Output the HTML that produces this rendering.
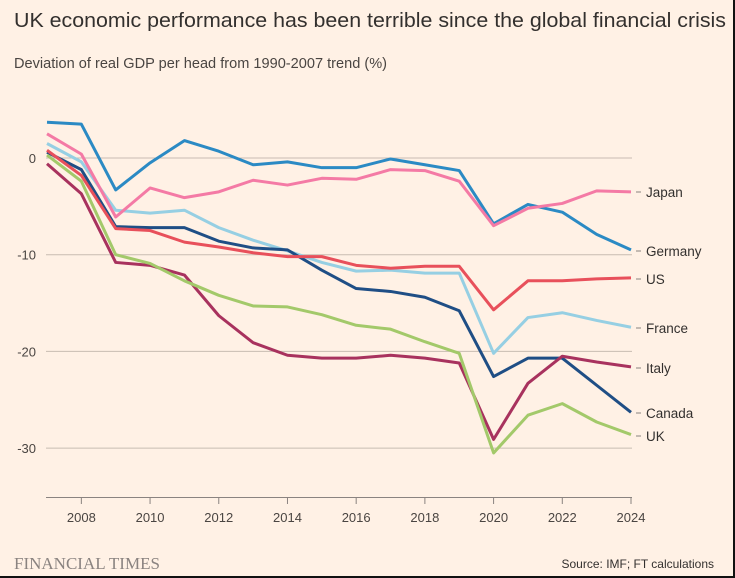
<!DOCTYPE html>
<html><head><meta charset="utf-8">
<style>
body{margin:0;background:#fff1e5;}
svg{display:block;font-family:"Liberation Sans",sans-serif;}
</style></head>
<body>
<svg width="735" height="578" viewBox="0 0 735 578">
<rect x="0" y="0" width="735" height="578" fill="#fff1e5"/>
<rect x="733" y="0" width="2" height="578" fill="#111"/>
<rect x="0" y="576" width="735" height="2" fill="#111"/>
<text x="14" y="27" font-size="20.5" fill="#33302e" textLength="712" lengthAdjust="spacingAndGlyphs">UK economic performance has been terrible since the global financial crisis</text>
<text x="14" y="68" font-size="14.5" fill="#4a4542" textLength="373" lengthAdjust="spacingAndGlyphs">Deviation of real GDP per head from 1990-2007 trend (%)</text>
<g id="grid"></g>
<g id="lines"></g>
<g id="labels"></g>
<text x="14" y="569" font-family="Liberation Serif,serif" font-size="17" fill="#8a8380">FINANCIAL TIMES</text>
<text x="714" y="568" text-anchor="end" font-size="12" fill="#33302e">Source: IMF; FT calculations</text>
</svg>
<script>
const years=[2007,2008,2009,2010,2011,2012,2013,2014,2015,2016,2017,2018,2019,2020,2021,2022,2023,2024];
const yTicks=[0,-10,-20,-30];
const xTicks=[2008,2010,2012,2014,2016,2018,2020,2022,2024];
const germany=[3.7,3.5,-3.3,-0.5,1.8,0.7,-0.7,-0.4,-1.0,-1.0,-0.1,-0.7,-1.3,-6.8,-4.8,-5.6,-7.9,-9.5];
const japan=[2.5,0.4,-6.1,-3.1,-4.1,-3.5,-2.3,-2.8,-2.1,-2.2,-1.2,-1.3,-2.4,-7.0,-5.2,-4.7,-3.4,-3.5];
const france=[1.5,-0.4,-5.4,-5.7,-5.4,-7.2,-8.5,-9.6,-10.8,-11.7,-11.6,-11.9,-11.9,-20.2,-16.5,-16.0,-16.8,-17.5];
const canada=[0.6,-1.2,-7.1,-7.2,-7.2,-8.6,-9.3,-9.5,-11.6,-13.5,-13.8,-14.4,-15.8,-22.6,-20.7,-20.7,-23.5,-26.3];
const us=[0.8,-1.8,-7.3,-7.5,-8.7,-9.2,-9.8,-10.2,-10.2,-11.1,-11.4,-11.2,-11.2,-15.7,-12.7,-12.7,-12.5,-12.4];
const italy=[-0.6,-3.7,-10.8,-11.1,-12.1,-16.3,-19.1,-20.4,-20.7,-20.7,-20.4,-20.7,-21.2,-29.1,-23.3,-20.5,-21.1,-21.6];
const uk=[0.3,-2.4,-10.0,-10.9,-12.7,-14.2,-15.3,-15.4,-16.2,-17.3,-17.7,-19.0,-20.2,-30.5,-26.6,-25.4,-27.3,-28.6];
const seriesNames=["France","Canada","US","Italy","Germany","Japan","UK"];
const seriesData=[france,canada,us,italy,germany,japan,uk];
const seriesColors=["#96cfe3","#1f4e85","#e8505b","#a8325e","#2b8ac4","#f47aa5","#a3c96a"];
const labelY={Japan:192,Germany:251,US:279,France:328,Italy:368,Canada:413,UK:436};
const NS="http://www.w3.org/2000/svg";
const xs=y=>47+(y-2007)*(584/17);
const ys=v=>158-v*9.67;
function mk(t,a,p){const e=document.createElementNS(NS,t);for(const k in a)e.setAttribute(k,a[k]);p.appendChild(e);return e;}
const grid=document.getElementById('grid');
yTicks.forEach(v=>{
 const l=mk('line',{x1:46,x2:632,y1:ys(v),y2:ys(v),stroke:'#c8bcb2','stroke-width':1},grid);
 
 
 const t=mk('text',{x:36,y:ys(v)+5,'text-anchor':'end','font-size':13,fill:'#4a4542'},grid);
 t.textContent=v===0?'0':'-'+Math.abs(v);
 
 
});
const ax=mk('line',{x1:46,x2:632,y1:497.5,y2:497.5,stroke:'#8a8380','stroke-width':1},grid);


xTicks.forEach(y=>{
 mk('line',{x1:xs(y),x2:xs(y),y1:497,y2:504,stroke:'#8a8380'},grid);
 const t=mk('text',{x:xs(y),y:522,'text-anchor':'middle','font-size':13,fill:'#4a4542'},grid);
 t.textContent=y;
 
 
});
const lines=document.getElementById('lines'),labels=document.getElementById('labels');
seriesData.forEach((d,i)=>{
 const p=mk('polyline',{points:d.map((v,j)=>xs(years[j])+','+ys(v)).join(' '),fill:'none',stroke:seriesColors[i],'stroke-width':3,'stroke-linejoin':'round'},lines);
 
 
 const ly=labelY[seriesNames[i]];
 mk('line',{x1:636,x2:641,y1:ly,y2:ly,stroke:'#8a8380'},labels);
 const t=mk('text',{x:646,y:ly+5,'font-size':13.5,fill:'#33302e'},labels);
 t.textContent=seriesNames[i];
 
 
});
</script>
</body></html>
